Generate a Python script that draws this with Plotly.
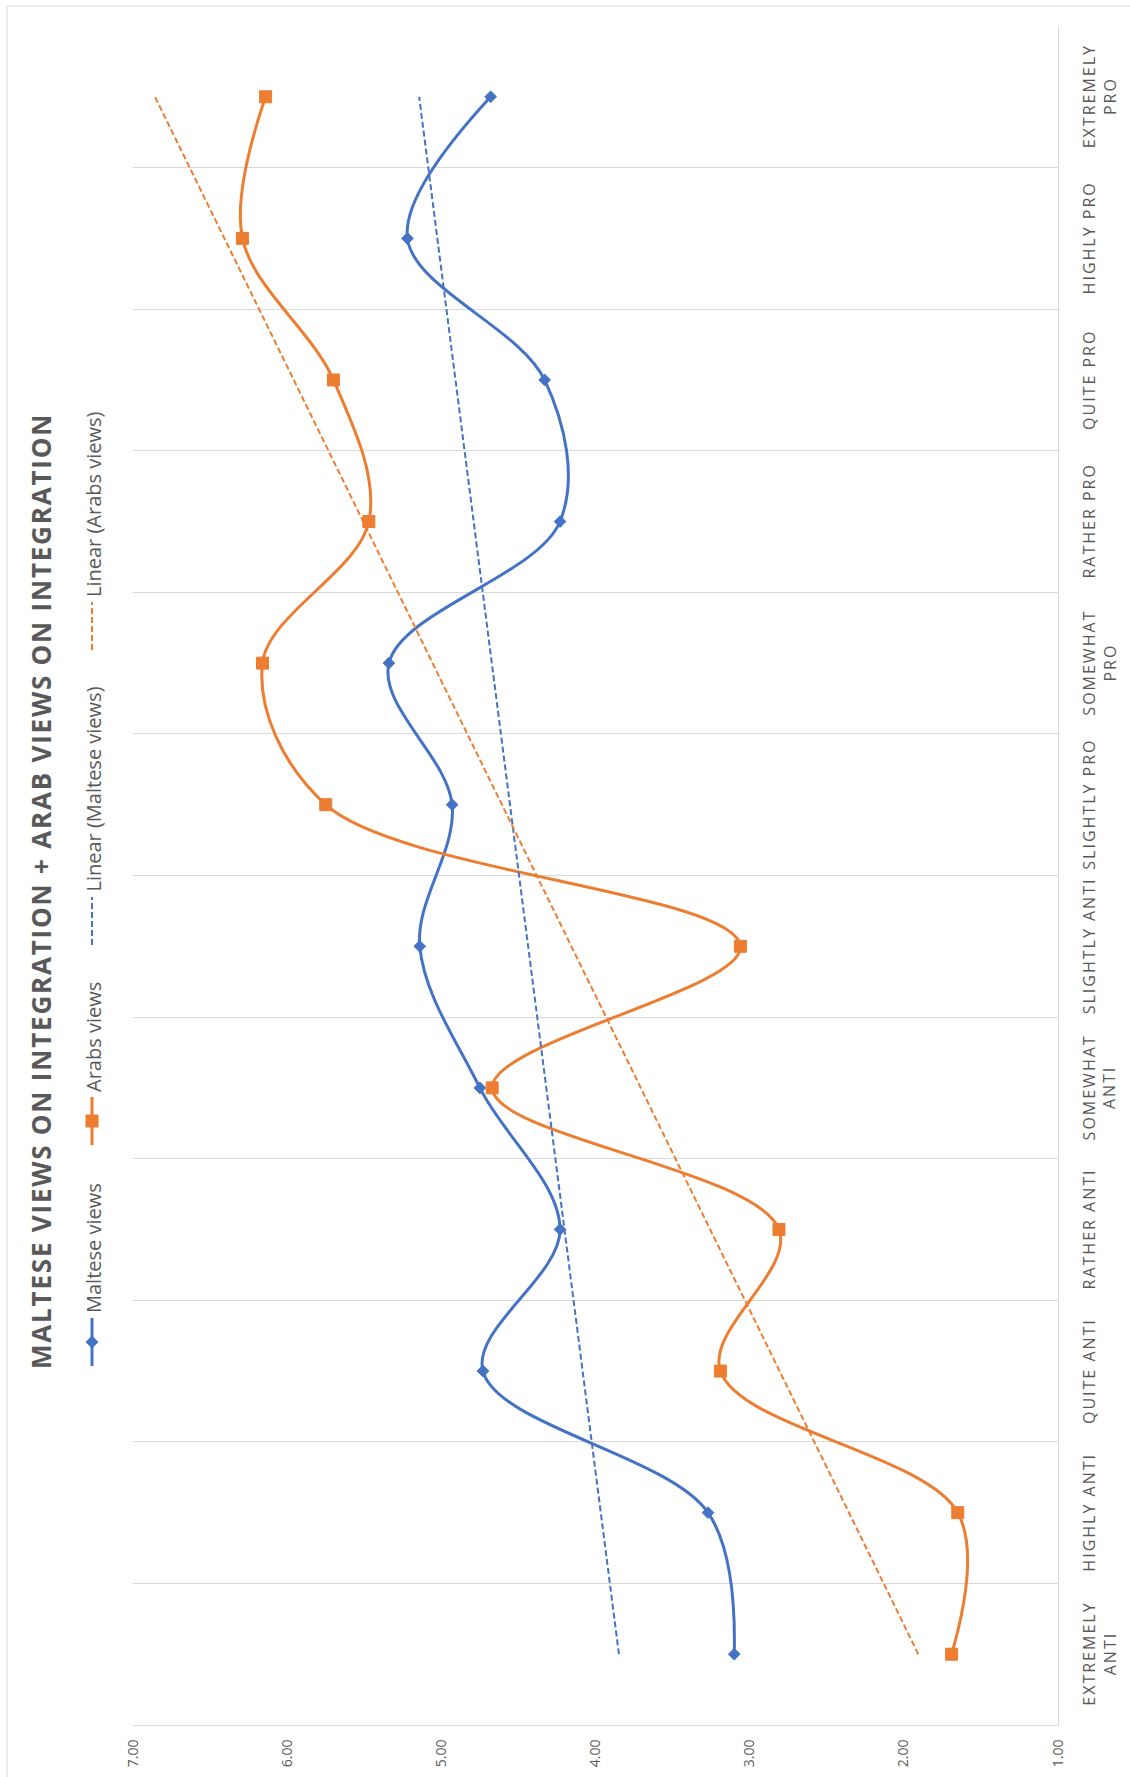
import numpy as np
import plotly.graph_objects as go

# Survey categories, from most anti to most pro integration
categories = ["EXTREMELY ANTI", "HIGHLY ANTI", "QUITE ANTI", "RATHER ANTI",
              "SOMEWHAT ANTI", "SLIGHTLY ANTI", "SLIGHTLY PRO", "SOMEWHAT PRO",
              "RATHER PRO", "QUITE PRO", "HIGHLY PRO", "EXTREMELY PRO"]
category_labels = ["EXTREMELY<br>ANTI", "HIGHLY ANTI", "QUITE ANTI", "RATHER ANTI",
                   "SOMEWHAT<br>ANTI", "SLIGHTLY ANTI", "SLIGHTLY PRO", "SOMEWHAT<br>PRO",
                   "RATHER PRO", "QUITE PRO", "HIGHLY PRO", "EXTREMELY<br>PRO"]

maltese_views = [3.10, 3.27, 4.73, 4.23, 4.75, 5.14, 4.93, 5.34, 4.23, 4.33, 5.22, 4.68]
arabs_views = [1.69, 1.65, 3.19, 2.81, 4.67, 3.06, 5.75, 6.16, 5.47, 5.70, 6.29, 6.14]

value_ticks = [7, 6, 5, 4, 3, 2, 1]

title_text = "MALTESE VIEWS ON INTEGRATION + ARAB VIEWS ON INTEGRATION"

BLUE = "#4472C4"
ORANGE = "#ED7D31"
GREY_TEXT = "#595959"
GRID = "#D9D9D9"
FONT = "Open Sans"

# Page geometry (pixels)
FIG_W, FIG_H = 1130, 1777
PLOT_L, PLOT_R, PLOT_T, PLOT_B = 133, 1058, 26, 1725


def px(xpix):
    return (xpix - PLOT_L) / (PLOT_R - PLOT_L)


def py(ypix):
    return (PLOT_B - ypix) / (PLOT_B - PLOT_T)


def spaced(text, spacing, bold=False):
    parts = []
    for line in text.split("<br>"):
        inner = f"<b>{line}</b>" if bold else line
        parts.append(f'<span style="letter-spacing:{spacing}px">{inner}</span>')
    return "<br>".join(parts)


# Linear trend lines (least squares over category index)
idx = np.arange(len(categories))
maltese_trend = np.polyval(np.polyfit(idx, maltese_views, 1), idx)
arabs_trend = np.polyval(np.polyfit(idx, arabs_views, 1), idx)

fig = go.Figure()

fig.add_trace(go.Scatter(
    x=maltese_views, y=categories, name="Maltese views",
    mode="lines+markers", line=dict(color=BLUE, width=3, shape="spline", smoothing=1.0),
    marker=dict(symbol="diamond", size=9, color=BLUE, line=dict(width=1, color=BLUE)),
    showlegend=False,
))
fig.add_trace(go.Scatter(
    x=arabs_views, y=categories, name="Arabs views",
    mode="lines+markers", line=dict(color=ORANGE, width=3, shape="spline", smoothing=1.0),
    marker=dict(symbol="square", size=12, color=ORANGE, line=dict(width=1, color=ORANGE)),
    showlegend=False,
))
fig.add_trace(go.Scatter(
    x=maltese_trend, y=categories, name="Linear (Maltese views)",
    mode="lines", line=dict(color=BLUE, width=2, dash="6px,3px"),
    showlegend=False,
))
fig.add_trace(go.Scatter(
    x=arabs_trend, y=categories, name="Linear (Arabs views)",
    mode="lines", line=dict(color=ORANGE, width=2, dash="6px,3px"),
    showlegend=False,
))

annotations = []
shapes = []

# Category labels to the right of the plot, rotated
for cat, lab in zip(categories, category_labels):
    annotations.append(dict(
        x=px(1076), xref="paper", y=cat, yref="y",
        xanchor="left", yanchor="middle", textangle=-90, align="center",
        text=spaced(lab, 2), showarrow=False,
        font=dict(family=FONT, size=16, color=GREY_TEXT),
    ))

# Title, rotated along the left side
annotations.append(dict(
    x=px(41), xref="paper", y=py(891), yref="paper",
    xanchor="center", yanchor="middle", textangle=-90,
    text=spaced(title_text, 1.8, bold=True), showarrow=False,
    font=dict(family=FONT, size=26, color=GREY_TEXT),
))

# Rotated legend
legend_items = [
    ("Maltese views", BLUE, "solid", "diamond", 1366),
    ("Arabs views", ORANGE, "solid", "square", 1145),
    ("Linear (Maltese views)", BLUE, "6px,3px", None, 945),
    ("Linear (Arabs views)", ORANGE, "6px,3px", None, 650),
]
LEG_X = 92
SYM_LEN = 48
for label, color, dash, symbol, start in legend_items:
    shapes.append(dict(
        type="line", xref="paper", yref="paper",
        x0=px(LEG_X), x1=px(LEG_X), y0=py(start), y1=py(start - SYM_LEN),
        line=dict(color=color, width=3 if dash == "solid" else 2, dash=dash),
    ))
    mid = start - SYM_LEN / 2
    if symbol == "diamond":
        d = 6.5
        path = (f"M {px(LEG_X)},{py(mid - d)} L {px(LEG_X + d)},{py(mid)} "
                f"L {px(LEG_X)},{py(mid + d)} L {px(LEG_X - d)},{py(mid)} Z")
        shapes.append(dict(type="path", xref="paper", yref="paper", path=path,
                           fillcolor=color, line=dict(color=color, width=0)))
    elif symbol == "square":
        d = 6.5
        shapes.append(dict(type="rect", xref="paper", yref="paper",
                           x0=px(LEG_X - d), x1=px(LEG_X + d),
                           y0=py(mid + d), y1=py(mid - d),
                           fillcolor=color, line=dict(color=color, width=0)))
    annotations.append(dict(
        x=px(LEG_X + 1), xref="paper", y=py(start - SYM_LEN - 3), yref="paper",
        xanchor="center", yanchor="bottom", textangle=-90,
        text=label, showarrow=False,
        font=dict(family=FONT, size=20, color=GREY_TEXT),
    ))

# Chart area border (left and top edges)
shapes.append(dict(type="line", xref="paper", yref="paper",
                   x0=px(7), x1=px(7), y0=py(6), y1=py(FIG_H + 5),
                   line=dict(color=GRID, width=1)))
shapes.append(dict(type="line", xref="paper", yref="paper",
                   x0=px(7), x1=px(FIG_W + 5), y0=py(6), y1=py(6),
                   line=dict(color=GRID, width=1)))

fig.update_layout(
    width=FIG_W, height=FIG_H,
    margin=dict(l=PLOT_L, r=FIG_W - PLOT_R, t=PLOT_T, b=FIG_H - PLOT_B, pad=0),
    paper_bgcolor="white", plot_bgcolor="white",
    template="none",
    font=dict(family=FONT, color=GREY_TEXT),
    showlegend=False,
    annotations=annotations,
    shapes=shapes,
    xaxis=dict(
        range=[7, 1], tickvals=value_ticks, tickformat=".2f",
        tickangle=-90, showgrid=False, zeroline=False,
        showline=True, linecolor=GRID, linewidth=1,
        ticks="", ticklabelstandoff=8,
        tickfont=dict(family=FONT, size=14, color=GREY_TEXT),
        automargin=False, fixedrange=True,
    ),
    yaxis=dict(
        type="category", categoryorder="array", categoryarray=categories,
        range=[-0.5, len(categories) - 0.5],
        side="right", tickson="boundaries", showgrid=True, gridcolor=GRID, gridwidth=1,
        showticklabels=False, ticks="", zeroline=False,
        showline=True, linecolor=GRID, linewidth=1,
        automargin=False, fixedrange=True,
    ),
)

fig.write_html("out.html")
